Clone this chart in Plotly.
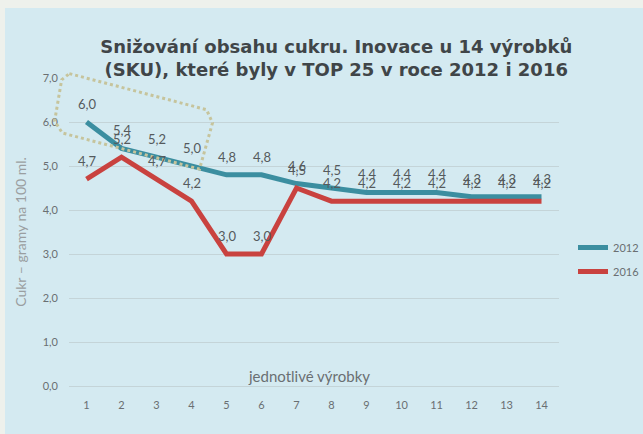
import plotly.graph_objects as go

# ---- data ----
products = list(range(1, 15))
tick_labels = [str(p) for p in products]
sugar_2012 = [6.0, 5.4, 5.2, 5.0, 4.8, 4.8, 4.6, 4.5, 4.4, 4.4, 4.4, 4.3, 4.3, 4.3]
sugar_2016 = [4.7, 5.2, 4.7, 4.2, 3.0, 3.0, 4.5, 4.2, 4.2, 4.2, 4.2, 4.2, 4.2, 4.2]
series_names = ["2012", "2016"]
y_ticks = [0, 1, 2, 3, 4, 5, 6, 7]

# highlight outline (in axis units: product index, grams)
outline_x = [0.51, 4.43, 4.60, 4.23, 0.31, 0.09, 0.29]
outline_y = [7.10, 6.28, 5.98, 4.93, 5.75, 6.02, 6.96]

W, H = 643, 434
ML, MR, MT, MB = 69, 84, 78, 48
PW, PH = W - ML - MR, H - MT - MB
XR = [0.5, 14.5]
YR = [0, 7]

def fmt(v):
    return f"{v:.1f}".replace(".", ",")

def px_to_paper(px, py):
    return (px - ML) / PW, (H - MB - py) / PH

def data_to_paper(x, y):
    return (x - XR[0]) / (XR[1] - XR[0]), (y - YR[0]) / (YR[1] - YR[0])

teal = "#3b8ea0"
red = "#c9423f"
label_font = dict(family="Lato", size=13, color="#555a5d")

fig = go.Figure()
fig.add_trace(go.Scatter(
    x=products, y=sugar_2012, name=series_names[0], mode="lines",
    line=dict(color=teal, width=5), legendgroup="a",
))
fig.add_trace(go.Scatter(
    x=products, y=sugar_2016, name=series_names[1], mode="lines",
    line=dict(color=red, width=5), legendgroup="b",
))

annotations = []
for series in (sugar_2012, sugar_2016):
    for x, v in zip(products, series):
        annotations.append(dict(
            x=x, y=v, xref="x", yref="y", text=fmt(v), showarrow=False,
            yanchor="middle", yshift=18, font=label_font,
        ))
annotations.append(dict(
    text="jednotlivé výrobky", xref="paper", yref="y", x=0.49, y=0.22,
    showarrow=False, font=dict(family="Lato", size=15, color="#6a6f72"),
))

# background panel
x0, y0 = px_to_paper(5, H)
x1, y1 = px_to_paper(W, 8)
shapes = [dict(type="rect", xref="paper", yref="paper", x0=x0, x1=x1, y0=y0, y1=y1,
               fillcolor="#d4eaf1", line=dict(width=0), layer="below")]

# dotted highlight outline
pts = [data_to_paper(x, y) for x, y in zip(outline_x, outline_y)]
path = "M " + " L ".join(f"{a:.4f},{b:.4f}" for a, b in pts) + " Z"
shapes.append(dict(type="path", xref="paper", yref="paper", path=path,
                   line=dict(color="#c6c49c", width=3, dash="dot"), layer="above"))

lx, ly = px_to_paper(573, 233)

fig.update_layout(
    width=W, height=H,
    margin=dict(l=ML, r=MR, t=MT, b=MB, autoexpand=False),
    paper_bgcolor="#eef1ec",
    plot_bgcolor="rgba(0,0,0,0)",
    separators=", ",
    shapes=shapes,
    annotations=annotations,
    title=dict(
        text="Snižování obsahu cukru. Inovace u 14 výrobků<br>(SKU), které byly v TOP 25 v roce 2012 i 2016",
        x=0.523, xanchor="center", y=0.878, yanchor="top",
        font=dict(family="DejaVu Sans", size=18, color="#404548", weight="bold"),
    ),
    xaxis=dict(
        range=XR, tickmode="array", tickvals=products, ticktext=tick_labels,
        showgrid=False, zeroline=False, showline=True, linecolor="#c4d4d8", linewidth=1,
        ticks="", tickfont=dict(family="Lato", size=11, color="#6a6f72"),
        ticklabelstandoff=9,
    ),
    yaxis=dict(
        range=YR, tickmode="array", tickvals=y_ticks, ticktext=[fmt(v) for v in y_ticks],
        showgrid=True, gridcolor="#c4d4d8", gridwidth=1, zeroline=False,
        tickfont=dict(family="Lato", size=11, color="#6a6f72"), ticklabelstandoff=10,
        title=dict(text="Cukr – gramy na 100 ml.", standoff=12,
                   font=dict(family="Lato", size=14, color="#9a9ea0")),
    ),
    legend=dict(
        x=lx, xanchor="left", y=ly, yanchor="top",
        font=dict(family="Lato", size=11, color="#6a6f72"),
        bgcolor="rgba(0,0,0,0)", tracegroupgap=5, itemwidth=30,
    ),
)

fig.write_html("out.html", config={"displayModeBar": False},
               post_script="document.body.style.margin='0px';")
